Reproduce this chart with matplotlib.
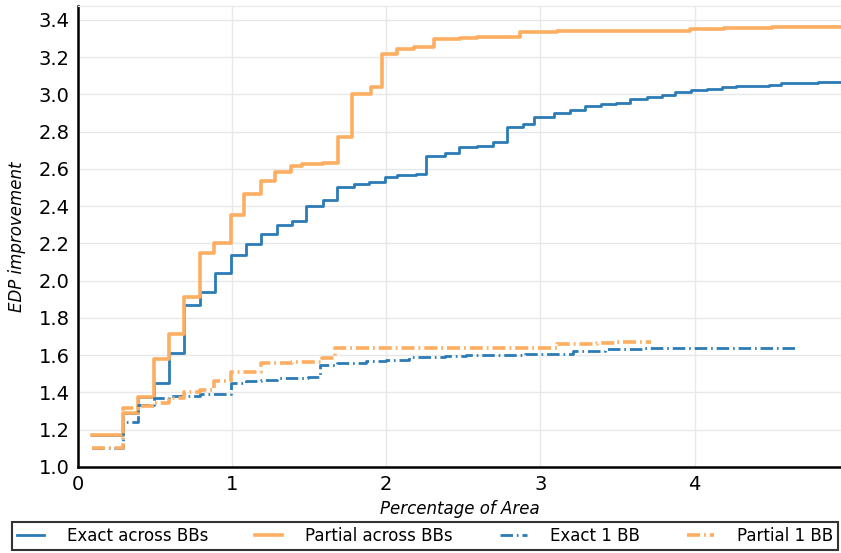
import numpy as np
import matplotlib
matplotlib.use('Agg')
import matplotlib.pyplot as plt

# Exact across BBs
x_exact = [0.09, 0.29, 0.39, 0.49, 0.59, 0.69, 0.79, 0.89, 0.99, 1.09, 1.19, 1.29,
           1.39, 1.48, 1.59, 1.68, 1.79, 1.89, 1.99, 2.07, 2.19, 2.26, 2.38, 2.47,
           2.59, 2.69, 2.78, 2.89, 2.96, 3.09, 3.19, 3.29, 3.39, 3.49, 3.58, 3.69,
           3.79, 3.87, 3.98, 4.08, 4.18, 4.27, 4.36, 4.48, 4.56, 4.67, 4.80, 4.99]
y_exact = [1.17, 1.29, 1.377, 1.452, 1.61, 1.87, 1.938, 2.04, 2.14, 2.197, 2.25, 2.30,
           2.32, 2.403, 2.433, 2.505, 2.517, 2.528, 2.558, 2.567, 2.573, 2.67, 2.684, 2.716,
           2.725, 2.743, 2.823, 2.841, 2.879, 2.899, 2.916, 2.938, 2.948, 2.955, 2.977, 2.988,
           2.997, 3.015, 3.022, 3.027, 3.038, 3.043, 3.047, 3.05, 3.059, 3.062, 3.067, 3.067]

# Partial across BBs
x_partial = [0.09, 0.29, 0.39, 0.49, 0.59, 0.69, 0.79, 0.88, 0.99, 1.08, 1.19, 1.28,
             1.38, 1.45, 1.59, 1.69, 1.78, 1.90, 1.97, 2.07, 2.18, 2.31, 2.48, 2.59,
             2.87, 3.11, 3.97, 4.19, 4.5, 4.99]
y_partial = [1.17, 1.29, 1.377, 1.578, 1.712, 1.912, 2.147, 2.204, 2.353, 2.465, 2.537, 2.582,
             2.616, 2.626, 2.633, 2.77, 3.002, 3.041, 3.217, 3.242, 3.253, 3.296, 3.305, 3.31,
             3.333, 3.34, 3.349, 3.358, 3.36, 3.36]

# Exact 1 BB
x_exact1 = [0.09, 0.29, 0.39, 0.49, 0.59, 0.79, 0.99, 1.09, 1.19, 1.29, 1.49, 1.57, 1.68,
            1.87, 2.0, 2.15, 2.25, 2.38, 2.52, 2.64, 2.9, 3.21, 3.42, 3.54, 3.67, 4.65]
y_exact1 = [1.10, 1.243, 1.333, 1.372, 1.383, 1.392, 1.452, 1.463, 1.467, 1.476, 1.485, 1.548, 1.56,
            1.569, 1.574, 1.589, 1.592, 1.596, 1.6, 1.603, 1.607, 1.624, 1.632, 1.635, 1.64, 1.64]

# Partial 1 BB
x_partial1 = [0.09, 0.29, 0.39, 0.49, 0.59, 0.69, 0.79, 0.88, 0.99, 1.19, 1.39, 1.58, 1.67,
              3.11, 3.37, 3.50, 3.72]
y_partial1 = [1.10, 1.318, 1.33, 1.342, 1.372, 1.404, 1.413, 1.463, 1.508, 1.557, 1.565, 1.583, 1.637,
              1.66, 1.667, 1.673, 1.673]

blue = '#2c7bb6'
orange = '#fdae61'

fig = plt.figure(figsize=(8.41, 5.53), dpi=100)
ax = fig.add_axes([78/841, 86/553, 763/841, 461/553])

ax.step(x_exact, y_exact, where='post', color=blue, lw=2, label='Exact across BBs')
ax.step(x_partial, y_partial, where='post', color=orange, lw=2.6, label='Partial across BBs')
ax.step(x_exact1, y_exact1, where='post', color=blue, lw=2,
        linestyle=(0, (4.5, 1.4, 0.6, 1.4)), label='Exact 1 BB')
ax.step(x_partial1, y_partial1, where='post', color=orange, lw=2.6,
        linestyle=(0, (3.6, 1.1, 0.5, 1.1)), label='Partial 1 BB')

ax.set_xlim(0, 4.95)
ax.set_ylim(1.0, 3.475)
ax.set_xticks([0, 1, 2, 3, 4])
ax.set_yticks(np.arange(1.0, 3.41, 0.2))
ax.set_yticklabels(['%.1f' % v for v in np.arange(1.0, 3.41, 0.2)])
ax.tick_params(labelsize=14, length=0, pad=6)
ax.grid(True, color='#e8e8e8', lw=1)
ax.set_axisbelow(True)

for s in ['left', 'bottom']:
    ax.spines[s].set_color('black')
    ax.spines[s].set_linewidth(1.8)
ax.spines['top'].set_color('#e8e8e8')
ax.spines['right'].set_visible(False)

ax.set_xlabel('Percentage of Area', fontsize=12, style='italic', labelpad=4)
ax.set_ylabel('EDP improvement', fontsize=12, style='italic', labelpad=9)

leg = fig.legend(loc='lower left', bbox_to_anchor=(12/841, 3/553, 826/841, 28/553),
                 mode='expand', ncol=4, fontsize=12, frameon=True, fancybox=False,
                 handlelength=1.6, handletextpad=1.4, borderaxespad=0, borderpad=0.3)
leg.get_frame().set_edgecolor('black')
leg.get_frame().set_linewidth(1.5)

fig.savefig('out.png', dpi=100)
